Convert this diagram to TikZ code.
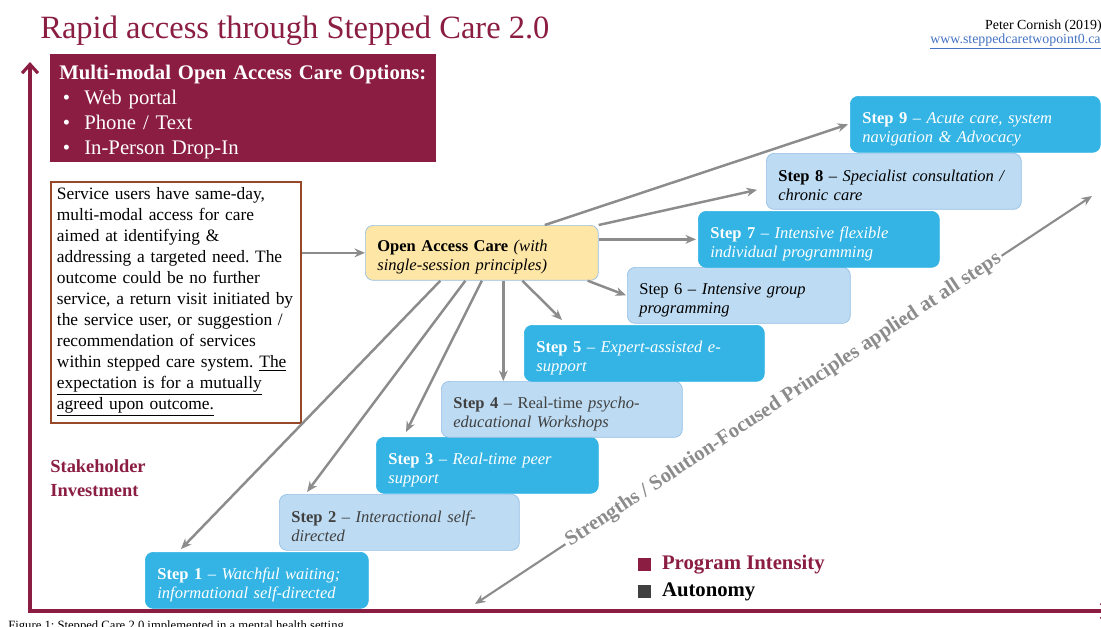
\documentclass[tikz,border=0pt]{standalone}
\usepackage{fontspec}
\setmainfont{Liberation Serif}
\usetikzlibrary{positioning, arrows.meta, calc}
\frenchspacing

\definecolor{maroon}{RGB}{139,29,66}
\definecolor{stepblue}{RGB}{51,180,228}
\definecolor{steppale}{RGB}{189,219,242}
\definecolor{paleedge}{RGB}{150,192,230}
\definecolor{oacyellow}{RGB}{253,230,166}
\definecolor{arrowgray}{RGB}{140,140,140}
\definecolor{descbrown}{RGB}{150,72,40}
\definecolor{linkblue}{RGB}{68,114,196}
\definecolor{darktext}{RGB}{64,64,64}

\newcommand{\stepfont}{\fontsize{9.4pt}{10.8pt}\selectfont}

\begin{document}
\begin{tikzpicture}[x=0.02cm, y=-0.02cm]
		\tikzset{
			>={Stealth[length=6pt, width=5pt]},
			stepbox/.style={draw, rounded corners=4.5pt, align=left, anchor=north west, inner xsep=0.24cm, minimum height=1.12cm, font=\stepfont, execute at begin node={\rule{0pt}{11.5pt}}},
			stepbright/.style={stepbox, fill=stepblue, draw=stepblue, text=white},
			steplight/.style={stepbox, fill=steppale, draw=paleedge, text=black},
			oacbox/.style={stepbox, fill=oacyellow, draw=paleedge, minimum height=1.1cm},
			descbox/.style={draw=descbrown, line width=1.1pt, fill=white, align=left, inner xsep=0.12cm, minimum height=4.82cm, font=\fontsize{9.9pt}{11.9pt}\selectfont},
			optbox/.style={fill=maroon, text=white, align=left, anchor=north west, inner xsep=0.18cm, inner ysep=0pt, minimum height=2.16cm, font=\fontsize{11.8pt}{14.2pt}\selectfont},
			flow/.style={->, draw=arrowgray, line width=1.4pt},
			axis/.style={draw=maroon, line width=1.8pt, -{Straight Barb[length=5pt, width=9pt]}},
			legsq/.style={anchor=north west, minimum size=0.26cm, inner sep=0},
			legtext/.style={inner sep=0, font=\bfseries\fontsize{11.8pt}{14pt}\selectfont}
		}
		\useasboundingbox (0,0) rectangle (1101,626);
		\fill[white] (0,0) rectangle (1101,626);
		\clip (0,0) rectangle (1101,626);

		% Axes
		\coordinate (origin) at (30,611);
		\coordinate (ytop) at (30,62);
		\coordinate (xend) at (1112,611);
		\draw[axis] ([yshift=-0.04cm]origin) -- (ytop);
		\draw[axis] ([xshift=-0.04cm]origin) -- (xend);

		% Heading and reference
		\node[anchor=base west, inner sep=0, text=maroon, font=\fontsize{18.5pt}{22pt}\selectfont] (title) at (40,38) {Rapid access through Stepped Care 2.0};
		\node[anchor=base east, inner sep=0, font=\fontsize{7.9pt}{9.5pt}\selectfont] (author) at (1102,29) {Peter Cornish (2019)};
		\node[anchor=base west, inner sep=0, text=linkblue, font=\fontsize{7.9pt}{9.5pt}\selectfont] (link) at (930,43) {\underline{www.steppedcaretwopoint0.ca}};

		% Access options and description
		\node[optbox, text width=7.36cm] (opts) at (50,54) {\rule{0pt}{12pt}\textbf{Multi-modal Open Access Care Options:}\\
			\makebox[0.5cm][l]{\,\textbullet}Web portal\\
			\makebox[0.5cm][l]{\,\textbullet}Phone / Text\\
			\makebox[0.5cm][l]{\,\textbullet}In-Person Drop-In};
		\node[descbox, text width=4.76cm, below=0.36cm of opts.south west, anchor=north west] (desc) {Service users have same-day,\\
			multi-modal access for care\\
			aimed at identifying \&\\
			addressing a targeted need. The\\
			outcome could be no further\\
			service, a return visit initiated by\\
			the service user, or suggestion /\\
			recommendation of services\\
			within stepped care system. \underline{The}\\
			\underline{expectation is for a mutually}\\
			\underline{agreed upon outcome.}};

		\node[anchor=north west, inner sep=0, align=left, text=maroon, font=\bfseries\fontsize{10.5pt}{13.6pt}\selectfont] (stake) at (50,459) {Stakeholder\\Investment};

		% Principles applied across the steps
		\coordinate (sfa) at (475,604);
		\coordinate (sfb) at (1092,196);
		\draw[<->, draw=arrowgray, line width=1.2pt] (sfa) -- node[sloped, fill=white, inner sep=1.5pt, text=arrowgray, font=\bfseries\fontsize{11.8pt}{14pt}\selectfont] (sftext) {Strengths / Solution-Focused Principles applied at all steps} (sfb);

		% Open access entry point
		\node[oacbox, text width=4.18cm] (oac) at (365,225) {\textbf{Open Access Care} \textit{(with}\\\textit{single-session principles)}};

		% The nine steps
		\node[stepbright, text width=3.98cm] (s1) at (145,552) {\textbf{Step 1} -- \textit{Watchful waiting;}\\\textit{informational self-directed}};
		\node[steplight, text=darktext, text width=4.32cm] (s2) at (279,494) {\textbf{Step 2} -- \textit{Interactional self-}\\\textit{directed}};
		\node[stepbright, text width=3.96cm] (s3) at (376,437) {\textbf{Step 3} -- \textit{Real-time peer}\\\textit{support}};
		\node[steplight, text=darktext, text width=4.34cm] (s4) at (441,381) {\textbf{Step 4} -- Real-time \textit{psycho-}\\\textit{educational Workshops}};
		\node[stepbright, text width=4.32cm] (s5) at (524,325) {\textbf{Step 5} -- \textit{Expert-assisted e-}\\\textit{support}};
		\node[steplight, text width=3.98cm] (s6) at (627,267) {Step 6 -- \textit{Intensive group}\\\textit{programming}};
		\node[stepbright, text width=4.34cm] (s7) at (698,211) {\textbf{Step 7} -- \textit{Intensive flexible}\\\textit{individual programming}};
		\node[steplight, text width=4.62cm] (s8) at (766,153) {\textbf{Step 8} -- \textit{Specialist consultation /}\\\textit{chronic care}};
		\node[stepbright, text width=4.52cm] (s9) at (850,96) {\textbf{Step 9} -- \textit{Acute care, system}\\\textit{navigation \& Advocacy}};

		% Routes out of open access
		\draw[flow] (desc.east |- oac.west) -- (oac.west);
		\draw[flow] ([xshift=1.26cm]oac.north) -- ([xshift=-0.04cm]s9.west);
		\draw[flow] (oac.north east) -- ([xshift=-0.18cm,yshift=-0.17cm]s8.west);
		\draw[flow] (oac.east |- s7.west) -- ([xshift=-0.04cm]s7.west);
		\draw[flow] ([xshift=-0.22cm]oac.south east) -- ([xshift=-0.02cm]s6.west);
		\draw[flow] ([xshift=0.81cm]oac.south) -- ([xshift=0.76cm,yshift=0.1cm]s5.north west);
		\draw[flow] ([xshift=0.43cm]oac.south) -- ([xshift=0.43cm]oac.south |- s4.north);
		\draw[flow] (oac.south) -- ([xshift=0.6cm,yshift=0.1cm]s3.north west);
		\draw[flow] ([xshift=-0.33cm]oac.south) -- ([xshift=0.56cm,yshift=0.04cm]s2.north west);
		\draw[flow] ([xshift=-0.83cm]oac.south) -- ([xshift=0.72cm,yshift=0.06cm]s1.north west);

		% Legend
		\node[legsq, fill=maroon] (sqprog) at (638,558) {};
		\node[legtext, text=maroon, right=0.2cm of sqprog] (lprog) {Program Intensity};
		\node[legsq, fill=darktext] (sqauto) at (638,585) {};
		\node[legtext, right=0.2cm of sqauto] (lauto) {Autonomy};

		% Caption under the chart
		\node[anchor=base west, inner sep=0, font=\fontsize{7.2pt}{8.6pt}\selectfont] (caption) at (8,629) {Figure 1: Stepped Care 2.0 implemented in a mental health setting};
	\end{tikzpicture}
\end{document}
